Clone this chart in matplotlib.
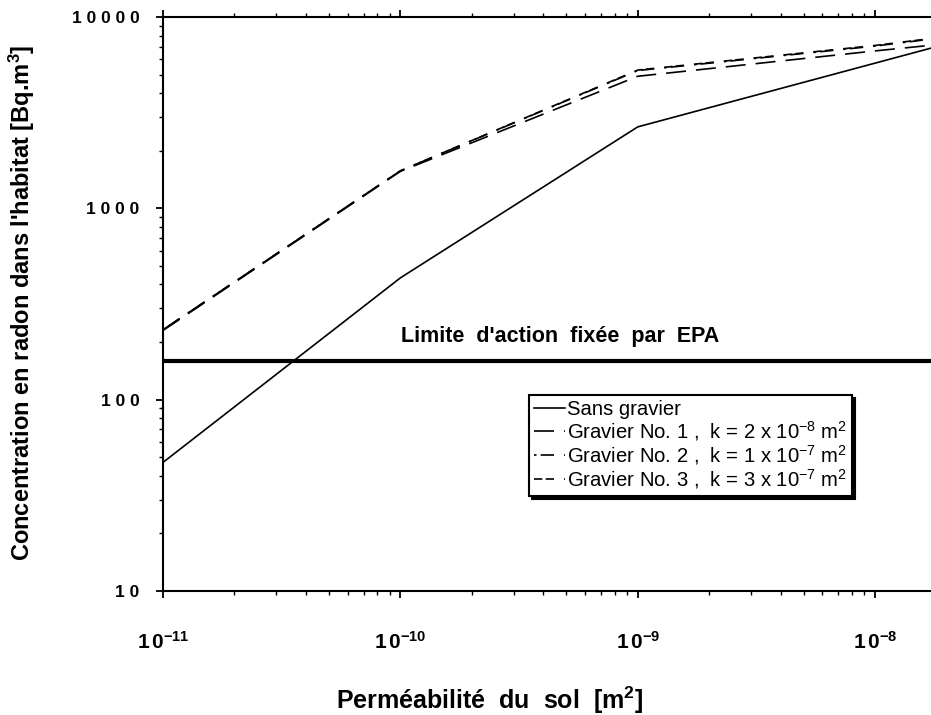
import matplotlib
matplotlib.use("Agg")
import matplotlib.pyplot as plt
from matplotlib.ticker import FixedLocator, NullFormatter, LogLocator

plt.rcParams['font.family'] = ['Liberation Sans', 'DejaVu Sans']
plt.rcParams['mathtext.fontset'] = 'custom'
plt.rcParams['mathtext.rm'] = 'Liberation Sans'
plt.rcParams['mathtext.bf'] = 'Liberation Sans:bold'
plt.rcParams['mathtext.it'] = 'Liberation Sans:italic'

# ---- data ----
permeability = [1e-11, 1e-10, 1e-9, 1e-8, 2e-8]
sans_gravier = [47, 433, 2665, 5740, 7230]
gravier_1 = [230, 1560, 4900, 6650, 7250]
gravier_2 = [232, 1570, 5250, 7050, 7850]
gravier_3 = [232, 1570, 5280, 7100, 7900]
epa_limit = 160

series_labels = [
    "Sans gravier",
    r"Gravier No. 1 ,  k = 2 x 10$^{-8}$ m$^{2}$",
    r"Gravier No. 2 ,  k = 1 x 10$^{-7}$ m$^{2}$",
    r"Gravier No. 3 ,  k = 3 x 10$^{-7}$ m$^{2}$",
]
x_ticks = [1e-11, 1e-10, 1e-9, 1e-8]
x_tick_labels = [r"$\mathbf{1\,0^{-11}}$", r"$\mathbf{1\,0^{-10}}$",
                 r"$\mathbf{1\,0^{-9}}$", r"$\mathbf{1\,0^{-8}}$"]
y_ticks = [10, 100, 1000, 10000]
y_tick_labels = ["1 0", "1 0 0", "1 0 0 0", "1 0 0 0 0"]

fig = plt.figure(figsize=(9.31, 7.15), dpi=100)
ax = fig.add_axes([163/931, 1-591/715, 1-163/931, (591-17)/715])

ax.set_xscale('log')
ax.set_yscale('log')

lw = 1.2
ax.plot(permeability, sans_gravier, color='black', lw=lw, label=series_labels[0])
ax.plot(permeability, gravier_1, color='black', lw=lw, ls=(0, (12, 6)), label=series_labels[1])
ax.plot(permeability, gravier_2, color='black', lw=lw, ls=(0, (1.5, 2.5, 8, 6)), label=series_labels[2])
ax.plot(permeability, gravier_3, color='black', lw=lw, ls=(0, (5, 2, 5, 6)), label=series_labels[3])

ax.axhline(epa_limit, color='black', lw=3)
ax.text(0.517, 0.425, "Limite  d'action  fixée  par  EPA", transform=ax.transAxes,
        ha='center', va='bottom', fontsize=15.5, fontweight='bold')

ax.set_xlim(1e-11, 1.72e-8)
ax.set_ylim(10, 10000)

ax.xaxis.set_major_locator(FixedLocator(x_ticks))
ax.set_xticklabels(x_tick_labels)
ax.xaxis.set_minor_locator(LogLocator(base=10, subs=range(2, 10)))
ax.xaxis.set_minor_formatter(NullFormatter())
ax.yaxis.set_major_locator(FixedLocator(y_ticks))
ax.set_yticklabels(y_tick_labels)
ax.yaxis.set_minor_locator(LogLocator(base=10, subs=range(2, 10)))
ax.yaxis.set_minor_formatter(NullFormatter())

for lab in ax.get_yticklabels():
    lab.set_fontweight('bold')
    lab.set_fontsize(12.5)
for lab in ax.get_xticklabels():
    lab.set_fontsize(15)

ax.tick_params(axis='both', which='major', direction='out', length=5, width=1.3)
ax.tick_params(axis='both', which='minor', direction='out', length=3, width=1.0)
ax.tick_params(axis='x', which='major', pad=24, top=True)
ax.tick_params(axis='x', which='minor', top=True)
ax.tick_params(axis='y', which='major', pad=12)

for side in ['left', 'bottom', 'top']:
    ax.spines[side].set_linewidth(1.5)
ax.spines['right'].set_visible(False)

fig.text(22/931, 1-303/715, r"Concentration en radon dans l'habitat [Bq.m$^{\mathbf{3}}$]",
         rotation=90, ha='center', va='center', fontsize=17, fontweight='bold')
fig.text(490/931, 1-700/715, r"Perméabilité  du  sol  [m$^{\mathbf{2}}$]",
         ha='center', va='center', fontsize=18, fontweight='bold')

leg = ax.legend(loc='upper left', bbox_to_anchor=(0.4766, 0.3415), frameon=True,
                fancybox=False, edgecolor='black', fontsize=14.6,
                handlelength=1.5, handletextpad=0.1, borderaxespad=0,
                labelspacing=0.0, borderpad=0.25,
                shadow={'color': 'black', 'alpha': 1, 'ox': 2, 'oy': -2})
leg.get_frame().set_linewidth(1.5)

fig.savefig("out.png", dpi=100)
